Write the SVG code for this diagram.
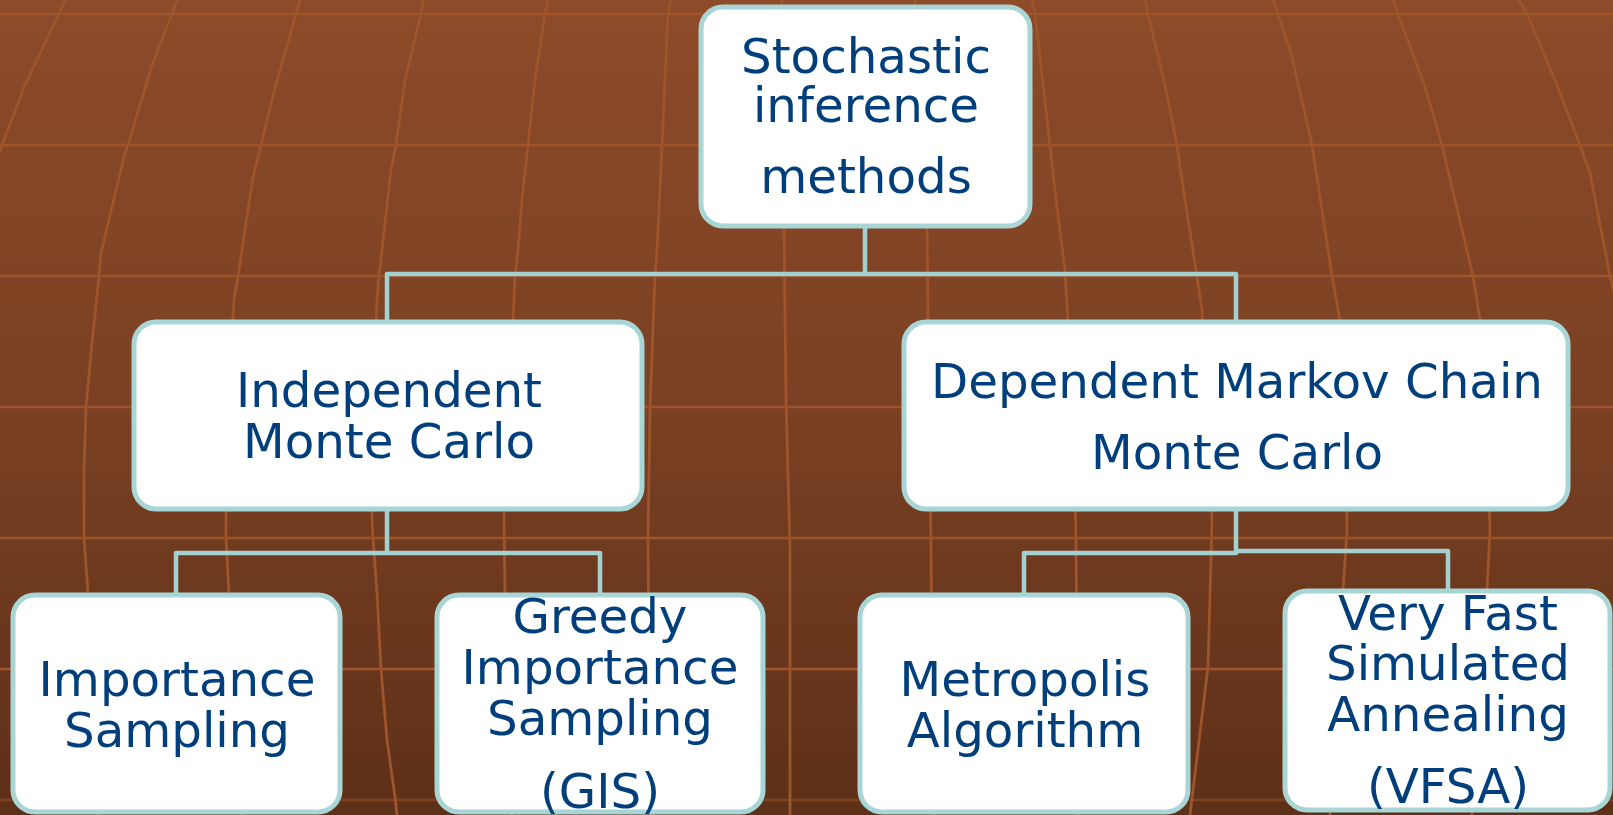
<svg xmlns="http://www.w3.org/2000/svg" width="1613" height="815" viewBox="0 0 1613 815">
  <defs>
    <linearGradient id="bg" x1="0" y1="0" x2="0" y2="1">
      <stop offset="0" stop-color="#8D4B29"/>
      <stop offset="0.5" stop-color="#7A4023"/>
      <stop offset="1" stop-color="#5D3018"/>
    </linearGradient>
    <style>
      .grid { fill: none; stroke: #9E552C; stroke-width: 2.8; stroke-linejoin: round; }
      .hgrid { fill: none; stroke: #9E552C; stroke-width: 2.5; }
      .node rect { fill: #FFFFFF; stroke: #A8D6D6; stroke-width: 5; }
      .node text { font-family: "DejaVu Sans", Verdana, sans-serif; font-size: 48.3px; fill: #003F7B; text-anchor: middle; }
      .conn { fill: none; stroke: #A3D0D1; stroke-width: 4.5; stroke-linejoin: round; }
    </style>
  </defs>

  <rect x="0" y="0" width="1613" height="815" fill="url(#bg)"/>

  <g id="background-grid">
    <path class="hgrid" d="M0,14 H1613 M0,145 H1613 M0,276 H1613 M0,407 H1613 M0,538 H1613 M0,669 H1613"/>
    <path class="hgrid" d="M0,800 H1613" stroke-opacity="0.5"/>
    <path class="grid" d="M65,0 L59,14 L25,85 L2,145 L-3,160"/>
    <path class="grid" d="M177,0 L172,14 L152,65 L128,145 L125,153 L101,253 L99,276 L91,353 L86,407 L84,470 L84,538 L88,593 L92,669 L98,815"/>
    <path class="grid" d="M300,0 L296,14 L275,88 L261,145 L253,177 L238,276 L234,300 L228,407 L226,520 L226,538 L229,593 L234,669 L242,815"/>
    <path class="grid" d="M423,0 L421,14 L405,80 L396,145 L391,170 L379,276 L377,300 L373,407 L372,520 L373,538 L377,593 L381,669 L387,740 L395,797 L397,815"/>
    <path class="grid" d="M548,0 L545,14 L535,80 L528,145 L522,200 L518,250 L515,276 L513,320 L506,407 L504,520 L505,595 L508,669 L512,815"/>
    <path class="grid" d="M671,0 L668,14 L662,145 L657,250 L655,276 L650,407 L648,538 L649,669 L652,815"/>
    <path class="grid" d="M782,0 L783,145 L784,229 L786,400 L790,550 L790,815"/>
    <path class="grid" d="M915,0 L920,145 L927,229 L929,400 L931,550 L932,669 L934,815"/>
    <path class="grid" d="M1032,0 L1035,14 L1050,145 L1056,200 L1065,270 L1069,340 L1073,407 L1076,538 L1077,669 L1078,815"/>
    <path class="grid" d="M1145,0 L1148,14 L1166,90 L1177,145 L1180,167 L1197,277 L1202,310 L1208,407 L1212,520 L1208,667 L1190,815"/>
    <path class="grid" d="M1273,0 L1278,14 L1292,57 L1312,145 L1332,276 L1340,320 L1345,407 L1347,530 L1343,590 L1338,669 L1330,815"/>
    <path class="grid" d="M1393,0 L1398,14 L1425,87 L1442,145 L1473,276 L1480,320 L1486,407 L1490,530 L1487,590 L1482,669 L1472,815"/>
    <path class="grid" d="M1519,0 L1527,14 L1555,80 L1580,145 L1590,173 L1610,276 L1616,300"/>
  </g>

  <g id="connectors">
    <path class="conn" d="M865,227 V274 M387,322 V274 H1236 V322"/>
    <path class="conn" d="M387,509 V553 M176,595 V553 H600 V595"/>
    <path class="conn" d="M1236,509 V553 H1024 V595 M1236,551 H1448 V591"/>
  </g>

  <g id="node-stochastic" class="node">
    <rect x="701" y="7" width="329" height="219" rx="22"/>
    <text x="866" y="73">Stochastic</text>
    <text x="866" y="122">inference</text>
    <text x="866" y="193">methods</text>
  </g>

  <g id="node-independent" class="node">
    <rect x="134" y="322" width="508" height="187" rx="22"/>
    <text x="389" y="407">Independent</text>
    <text x="389" y="458">Monte Carlo</text>
  </g>

  <g id="node-dependent" class="node">
    <rect x="904" y="322" width="664" height="187" rx="22"/>
    <text x="1237" y="398">Dependent Markov Chain</text>
    <text x="1237" y="469">Monte Carlo</text>
  </g>

  <g id="node-importance" class="node">
    <rect x="13" y="595" width="327" height="217" rx="22"/>
    <text x="177" y="696">Importance</text>
    <text x="177" y="747">Sampling</text>
  </g>

  <g id="node-gis" class="node">
    <rect x="437" y="595" width="326" height="217" rx="22"/>
    <text x="600" y="633">Greedy</text>
    <text x="600" y="684">Importance</text>
    <text x="600" y="735">Sampling</text>
    <text x="600" y="808">(GIS)</text>
  </g>

  <g id="node-metropolis" class="node">
    <rect x="860" y="595" width="328" height="217" rx="22"/>
    <text x="1025" y="696">Metropolis</text>
    <text x="1025" y="747">Algorithm</text>
  </g>

  <g id="node-vfsa" class="node">
    <rect x="1285" y="591" width="325" height="219" rx="22"/>
    <text x="1448" y="630">Very Fast</text>
    <text x="1448" y="680">Simulated</text>
    <text x="1448" y="731">Annealing</text>
    <text x="1448" y="803">(VFSA)</text>
  </g>
</svg>
